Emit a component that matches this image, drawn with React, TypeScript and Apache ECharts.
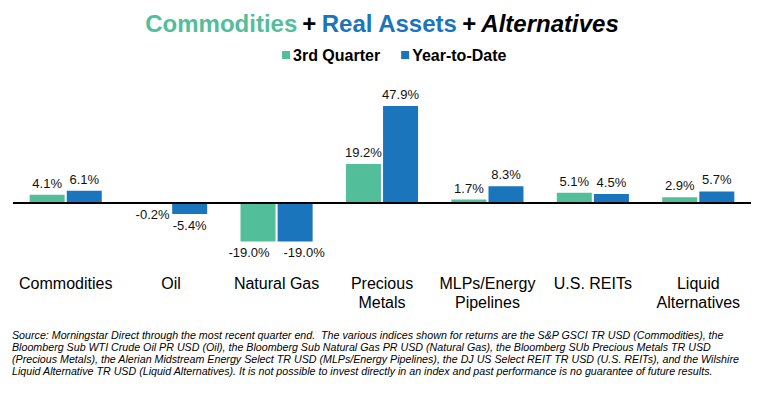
import React, { useEffect, useRef } from "react";
import * as echarts from "echarts";

const categories = [
  "Commodities",
  "Oil",
  "Natural Gas",
  "Precious\nMetals",
  "MLPs/Energy\nPipelines",
  "U.S. REITs",
  "Liquid\nAlternatives",
];
const quarterValues = [4.1, -0.2, -19.0, 19.2, 1.7, 5.1, 2.9];
const ytdValues = [6.1, -5.4, -19.0, 47.9, 8.3, 4.5, 5.7];
const seriesNames = ["3rd Quarter", "Year-to-Date"];
const footnoteLines = [
  "Source: Morningstar Direct through the most recent quarter end.  The various indices shown for returns are the S&P GSCI TR USD (Commodities), the",
  "Bloomberg Sub WTI Crude Oil PR USD (Oil), the Bloomberg Sub Natural Gas PR USD (Natural Gas), the Bloomberg SUb Precious Metals TR USD",
  "(Precious Metals), the Alerian Midstream Energy Select TR USD (MLPs/Energy Pipelines), the DJ US Select REIT TR USD (U.S. REITs), and the Wilshire",
  "Liquid Alternative TR USD (Liquid Alternatives). It is not possible to invest directly in an index and past performance is no guarantee of future results.",
];

const GREEN = "#52BE9A";
const BLUE = "#1A75BC";
const FONT = "'Liberation Sans', Arial, sans-serif";

function measure(text: string, font: string): number {
  const c = document.createElement("canvas");
  const ctx = c.getContext("2d");
  if (!ctx) return text.length * 5.5;
  ctx.font = font;
  return ctx.measureText(text).width;
}

function makeData(values: number[], nudge: number) {
  return values.map((v) => ({
    value: v,
    label: {
      position: v < 0 ? "bottom" : "top",
      offset: v <= -15 ? [nudge, 0] : [0, 0],
    },
  }));
}

export default function App() {
  const ref = useRef<HTMLDivElement>(null);
  useEffect(() => {
    document.body.style.margin = "0";
    if (!ref.current) return;
    const chart = echarts.init(ref.current, null, { renderer: "svg" });
    const fnSize = 11;
    const fnFont = `italic ${fnSize}px 'Liberation Sans'`;
    const w0 = measure(footnoteLines[0], fnFont);
    const sx = (725 - 12) / w0;

    const labelStyle = {
      show: true,
      distance: 5,
      fontFamily: FONT,
      fontSize: 13,
      color: "#111",
      formatter: (p: any) => Number(p.value).toFixed(1) + "%",
    };
    const T = 24;

    chart.setOption({
      animation: false,
      title: {
        left: "center",
        top: 11,
        padding: 0,
        text: "{a|Commodities} {b|+} {c|Real Assets} {b|+} {d|Alternatives}",
        textStyle: {
          rich: {
            a: { fontFamily: FONT, fontSize: T, fontWeight: "bold", color: GREEN },
            b: { fontFamily: FONT, fontSize: T, fontWeight: "bold", color: "#000" },
            c: { fontFamily: FONT, fontSize: T, fontWeight: "bold", color: BLUE },
            d: { fontFamily: FONT, fontSize: T, fontWeight: "bold", fontStyle: "italic", color: "#000" },
          },
        },
      },
      legend: {
        top: 47,
        left: 282,
        padding: 0,
        itemWidth: 8,
        itemHeight: 8,
        itemGap: 21,
        icon: "rect",
        textStyle: { fontFamily: FONT, fontSize: 16, fontWeight: "bold", color: "#000", padding: [0, 0, 0, -2] },
        data: seriesNames,
      },
      grid: { left: 13, right: 13, top: 101.75, height: 162 },
      xAxis: {
        type: "category",
        data: categories,
        axisLine: { show: false },
        axisTick: { show: false },
        axisLabel: {
          margin: 10,
          interval: 0,
          fontFamily: FONT,
          fontSize: 16,
          lineHeight: 19,
          color: "#000",
        },
      },
      yAxis: {
        type: "value",
        min: -30,
        max: 50,
        show: false,
        splitLine: { show: false },
      },
      series: [
        {
          name: seriesNames[0],
          type: "bar",
          barWidth: 35,
          barGap: "6%",
          itemStyle: { color: GREEN },
          label: labelStyle,
          data: makeData(quarterValues, -9),
          markLine: {
            silent: true,
            symbol: "none",
            label: { show: false },
            lineStyle: { color: "#000", width: 2, type: "solid" },
            data: [{ yAxis: 0 }],
          },
        },
        {
          name: seriesNames[1],
          type: "bar",
          barWidth: 35,
          barGap: "6%",
          itemStyle: { color: BLUE },
          label: labelStyle,
          data: makeData(ytdValues, 9),
        },
      ],
      graphic: footnoteLines.map((t, i) => ({
        type: "text",
        left: 12,
        top: 329 + i * 12.3,
        scaleX: sx,
        style: {
          text: t,
          fontFamily: "'Liberation Sans'",
          fontStyle: "italic",
          fontSize: fnSize,
          fill: "#000",
        },
      })),
    });
    return () => chart.dispose();
  }, []);
  return <div ref={ref} style={{ width: 764, height: 398 }} />;
}
